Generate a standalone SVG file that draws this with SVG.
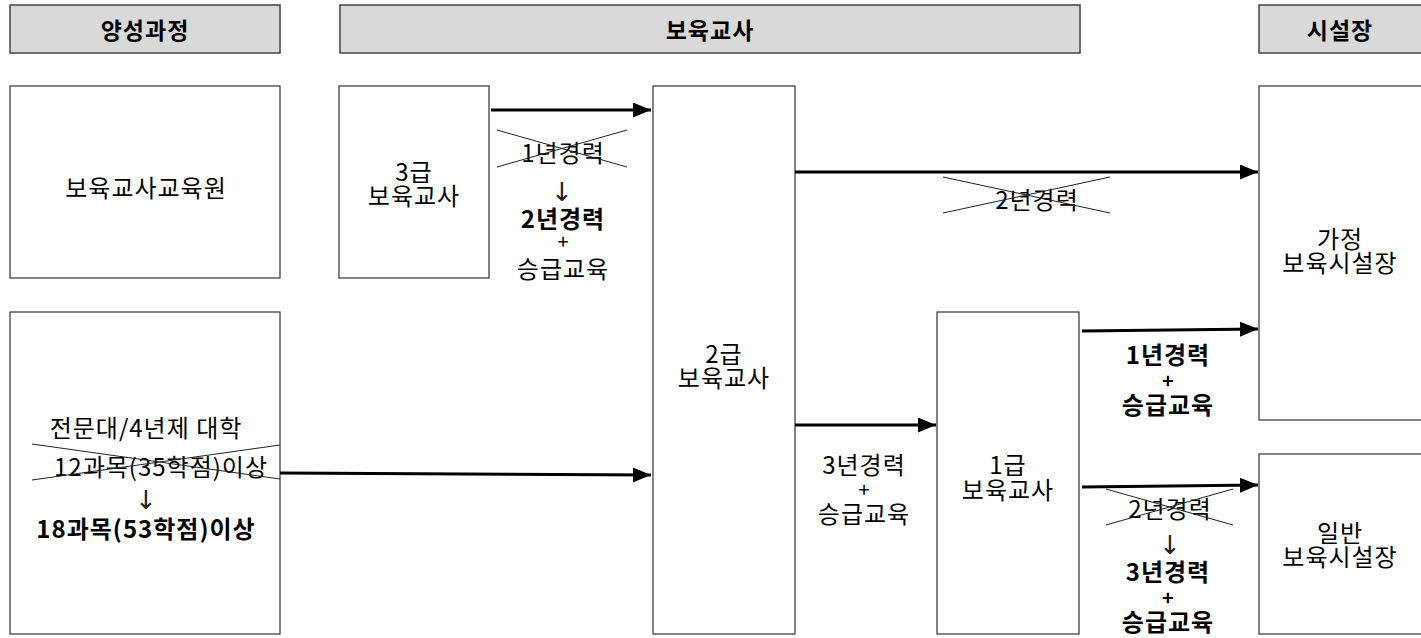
<svg xmlns="http://www.w3.org/2000/svg" width="1421" height="638" viewBox="0 0 1421 638">
<style>
text{font-family:"Noto Sans CJK KR","Noto Sans",sans-serif;font-size:24px;fill:#000;text-anchor:middle;dominant-baseline:central;letter-spacing:1px}
.b{font-weight:bold}
.h{font-weight:bold;font-size:23px}
.ar{font-family:"DejaVu Sans",sans-serif;font-size:26px;letter-spacing:0;font-weight:normal;fill:#222}
.p{font-size:20px;letter-spacing:0}
.hdr{fill:#d9d9d9;stroke:#444;stroke-width:1.5}
.box{fill:#fff;stroke:#333;stroke-width:1.2}
.arr{stroke:#000;stroke-width:3;fill:none;marker-end:url(#ah)}
.x{stroke:#222;stroke-width:1}
</style>
<defs>
<marker id="ah" markerWidth="6" markerHeight="5" refX="6" refY="2.5" orient="auto" markerUnits="strokeWidth">
<path d="M0,0 L6,2.5 L0,5 Z" fill="#000"/>
</marker>
</defs>
<rect width="1421" height="638" fill="#fff"/>

<g id="header-training"><rect class="hdr" x="10" y="5" width="270" height="48"/><text class="h" x="145" y="29">양성과정</text></g>
<g id="header-teacher"><rect class="hdr" x="340" y="5" width="740" height="48"/><text class="h" x="710" y="29">보육교사</text></g>
<g id="header-director"><rect class="hdr" x="1259" y="5" width="170" height="48"/><text class="h" x="1340" y="29">시설장</text></g>

<g id="node-edu"><rect class="box" x="10" y="86" width="270" height="192"/><text x="146" y="186">보육교사교육원</text></g>
<g id="node-univ"><rect class="box" x="10" y="312" width="270" height="322"/>
<text x="146" y="426">전문대/4년제 대학</text>
<text x="161" y="465">12과목(35학점)이상</text>
<line class="x" x1="32" y1="444" x2="280" y2="479"/>
<line class="x" x1="32" y1="480" x2="280" y2="445"/>
<text class="ar" x="146" y="500">↓</text>
<text class="b" x="146" y="527">18과목(53학점)이상</text>
</g>
<g id="node-g3"><rect class="box" x="339" y="86" width="150" height="192"/><text x="414" y="170">3급<tspan x="414" dy="24">보육교사</tspan></text></g>
<g id="node-g2"><rect class="box" x="653" y="86" width="142" height="548"/><text x="724" y="352">2급<tspan x="724" dy="24">보육교사</tspan></text></g>
<g id="node-g1"><rect class="box" x="937" y="312" width="142" height="322"/><text x="1008" y="463">1급<tspan x="1008" dy="25">보육교사</tspan></text></g>
<g id="node-home"><rect class="box" x="1259" y="86" width="170" height="334"/><text x="1340" y="237">가정<tspan x="1340" dy="24">보육시설장</tspan></text></g>
<g id="node-general"><rect class="box" x="1259" y="454" width="170" height="180"/><text x="1340" y="531">일반<tspan x="1340" dy="24">보육시설장</tspan></text></g>

<g id="connectors">
<line class="arr" x1="491" y1="110" x2="651" y2="110"/>
<line class="arr" x1="280" y1="473" x2="651" y2="475"/>
<line class="arr" x1="795" y1="172" x2="1258" y2="172"/>
<line class="arr" x1="795" y1="425" x2="936" y2="425"/>
<line class="arr" x1="1082" y1="331" x2="1258" y2="329"/>
<line class="arr" x1="1082" y1="487" x2="1258" y2="485"/>
</g>

<g id="labels">
<text x="563" y="151">1년경력</text>
<line class="x" x1="497" y1="130" x2="627" y2="167"/>
<line class="x" x1="497" y1="167" x2="627" y2="130"/>
<text class="ar" x="562" y="192">↓</text>
<text class="b" x="563" y="217">2년경력</text>
<text class="p" x="563" y="240">+</text>
<text x="563" y="267">승급교육</text>

<text x="1037" y="198">2년경력</text>
<line class="x" x1="943" y1="177" x2="1110" y2="213"/>
<line class="x" x1="943" y1="213" x2="1110" y2="177"/>

<text x="864" y="463">3년경력<tspan class="p" x="864" dy="25">+</tspan><tspan x="864" dy="24">승급교육</tspan></text>

<text class="b" x="1168" y="353">1년경력<tspan class="p" x="1168" dy="26">+</tspan><tspan x="1168" dy="24">승급교육</tspan></text>

<text x="1170" y="507">2년경력</text>
<line class="x" x1="1106" y1="489" x2="1233" y2="525"/>
<line class="x" x1="1106" y1="525" x2="1233" y2="489"/>
<text class="ar" x="1170" y="545">↓</text>
<text class="b" x="1168" y="570">3년경력<tspan class="p" x="1168" dy="26">+</tspan><tspan x="1168" dy="24">승급교육</tspan></text>
</g>
</svg>
